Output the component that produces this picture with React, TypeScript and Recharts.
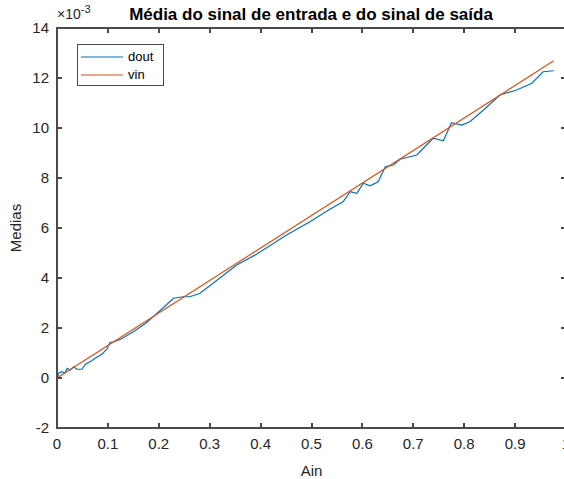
import React from "react";
import { LineChart, Line, XAxis, YAxis, Legend } from "recharts";

// Ain values where dout was sampled, and the dout means (x 1e-3)
const ainDout = [
  0, 0.003, 0.01, 0.015, 0.02, 0.026, 0.033, 0.039, 0.049, 0.056, 0.065,
  0.075, 0.088, 0.098, 0.104, 0.112, 0.125, 0.15, 0.175, 0.2, 0.229, 0.248,
  0.261, 0.281, 0.32, 0.353, 0.392, 0.451, 0.497, 0.536, 0.562, 0.576, 0.589,
  0.602, 0.615, 0.631, 0.645, 0.661, 0.674, 0.707, 0.739, 0.759, 0.775, 0.795,
  0.811, 0.838, 0.87, 0.903, 0.933, 0.955, 0.976,
];
const doutValues = [
  -0.15, 0.19, 0.25, 0.19, 0.39, 0.32, 0.45, 0.35, 0.35, 0.55, 0.65, 0.79,
  0.95, 1.15, 1.42, 1.45, 1.55, 1.85, 2.2, 2.65, 3.19, 3.25, 3.25, 3.39, 4.0,
  4.52, 4.95, 5.72, 6.25, 6.75, 7.05, 7.45, 7.39, 7.79, 7.69, 7.85, 8.45, 8.52,
  8.75, 8.92, 9.59, 9.49, 10.21, 10.12, 10.25, 10.72, 11.32, 11.52, 11.79,
  12.25, 12.29,
];

// vin is a straight line
const ainVin = [0, 0.976];
const vinValues = [0, 12.69];

const xTicks = [0, 0.1, 0.2, 0.3, 0.4, 0.5, 0.6, 0.7, 0.8, 0.9, 1];
const yTicks = [-2, 0, 2, 4, 6, 8, 10, 12, 14];

const doutData = ainDout.map((a, i) => ({ ain: a, dout: doutValues[i] }));
const vinData = ainVin.map((a, i) => ({ ain: a, vin: vinValues[i] }));

const colors: Record<string, string> = { dout: "#0072BD", vin: "#D95319" };
const axisColor = "#4a4a4a";
const textColor = "#262626";
const font = "'Liberation Sans', Arial, sans-serif";

// plot box, in page pixels
const PLOT = { left: 57, top: 28, width: 509, height: 400 };
const X_MIN = 0, X_MAX = 1, Y_MIN = -2, Y_MAX = 14;
const TICK = 5;
const LW = 2;
const xPos = (v: number) =>
  Math.round(PLOT.left + ((v - X_MIN) / (X_MAX - X_MIN)) * PLOT.width);
const yPos = (v: number) =>
  Math.round(PLOT.top + ((Y_MAX - v) / (Y_MAX - Y_MIN)) * PLOT.height);

const BottomTick = (p: any) => (
  <text
    x={p.x}
    y={PLOT.top + PLOT.height + 10}
    dy="0.71em"
    textAnchor="middle"
    fill={textColor}
    fontSize={15}
    fontFamily={font}
  >
    {p.payload.value}
  </text>
);

const LeftTick = (p: any) => (
  <text
    x={PLOT.left - 8}
    y={p.y}
    dy="0.355em"
    textAnchor="end"
    fill={textColor}
    fontSize={15}
    fontFamily={font}
  >
    {p.payload.value}
  </text>
);

const mark = (left: number, top: number, w: number, h: number, key: string) => (
  <div
    key={key}
    style={{ position: "absolute", left, top, width: w, height: h, background: axisColor }}
  />
);

// axes box with inward ticks + the legend box
const Overlay = (props: any) => {
  const items = props.payload || [];
  const bottom = PLOT.top + PLOT.height;
  const right = PLOT.left + PLOT.width;
  const half = LW / 2;
  return (
    <div style={{ position: "relative", width: 580, height: 479 }}>
      <div
        style={{
          position: "absolute",
          left: PLOT.left - half,
          top: PLOT.top - half,
          width: PLOT.width + LW,
          height: PLOT.height + LW,
          border: `${LW}px solid ${axisColor}`,
          boxSizing: "border-box",
        }}
      />
      {xTicks.map((t) => mark(xPos(t) - half, bottom - TICK, LW, TICK, `b${t}`))}
      {xTicks.map((t) => mark(xPos(t) - half, PLOT.top, LW, TICK, `t${t}`))}
      {yTicks.map((t) => mark(PLOT.left, yPos(t) - half, TICK, LW, `l${t}`))}
      {yTicks.map((t) => mark(right - TICK, yPos(t) - half, TICK, LW, `r${t}`))}
      <div
        style={{
          position: "absolute",
          left: 77,
          top: 44,
          border: `1px solid ${axisColor}`,
          background: "#fff",
          width: 87,
          height: 42,
          boxSizing: "border-box",
          paddingTop: 3,
          fontFamily: font,
          fontSize: 13,
          color: "#000",
        }}
      >
        {items.map((it: any) => (
          <div
            key={it.value}
            style={{ display: "flex", alignItems: "center", height: 18 }}
          >
            <svg width={44} height={4} style={{ marginLeft: 2 }}>
              <path
                d="M1,2 L43,2"
                stroke={colors[it.value] || it.color}
                strokeWidth={1.2}
              />
            </svg>
            <span style={{ marginLeft: 4, lineHeight: "18px" }}>{it.value}</span>
          </div>
        ))}
      </div>
    </div>
  );
};

export default function App() {
  return (
    <div
      style={{
        position: "absolute",
        left: 0,
        top: 0,
        width: 564,
        height: 479,
        overflow: "hidden",
        background: "#fff",
      }}
    >
      <div
        style={{
          position: "absolute",
          left: 0,
          width: 622,
          top: 5,
          textAlign: "center",
          fontFamily: font,
          fontWeight: "bold",
          fontSize: 17,
          color: "#000",
        }}
      >
        Média do sinal de entrada e do sinal de saída
      </div>
      <div
        style={{
          position: "absolute",
          left: 57,
          top: 3,
          fontFamily: font,
          fontSize: 14,
          color: textColor,
        }}
      >
        ×10<sup style={{ fontSize: 11 }}>-3</sup>
      </div>
      <LineChart
        width={580}
        height={479}
        margin={{ top: PLOT.top, right: 580 - PLOT.left - PLOT.width, bottom: 0, left: 0 }}
      >
        <XAxis
          dataKey="ain"
          type="number"
          domain={[X_MIN, X_MAX]}
          ticks={xTicks}
          allowDataOverflow
          height={479 - PLOT.top - PLOT.height}
          axisLine={false}
          tickLine={false}
          tick={<BottomTick />}
          label={{
            value: "Ain",
            position: "insideBottom",
            offset: 3,
            fill: textColor,
            fontSize: 15,
            fontFamily: font,
          }}
        />
        <YAxis
          type="number"
          domain={[Y_MIN, Y_MAX]}
          ticks={yTicks}
          allowDataOverflow
          width={PLOT.left}
          axisLine={false}
          tickLine={false}
          tick={<LeftTick />}
          label={{
            value: "Medias",
            angle: -90,
            position: "insideLeft",
            offset: 16,
            style: { textAnchor: "middle" },
            fill: textColor,
            fontSize: 15,
            fontFamily: font,
          }}
        />
        <Legend
          layout="horizontal"
          verticalAlign="middle"
          align="center"
          content={<Overlay />}
          wrapperStyle={{
            position: "absolute",
            left: 0,
            top: 0,
            width: 580,
            height: 479,
            pointerEvents: "none",
          }}
        />
        <Line
          data={doutData}
          dataKey="dout"
          name="dout"
          stroke={colors.dout}
          strokeWidth={1.2}
          dot={false}
          isAnimationActive={false}
        />
        <Line
          data={vinData}
          dataKey="vin"
          name="vin"
          stroke={colors.vin}
          strokeWidth={1.2}
          dot={false}
          isAnimationActive={false}
        />
      </LineChart>
    </div>
  );
}
